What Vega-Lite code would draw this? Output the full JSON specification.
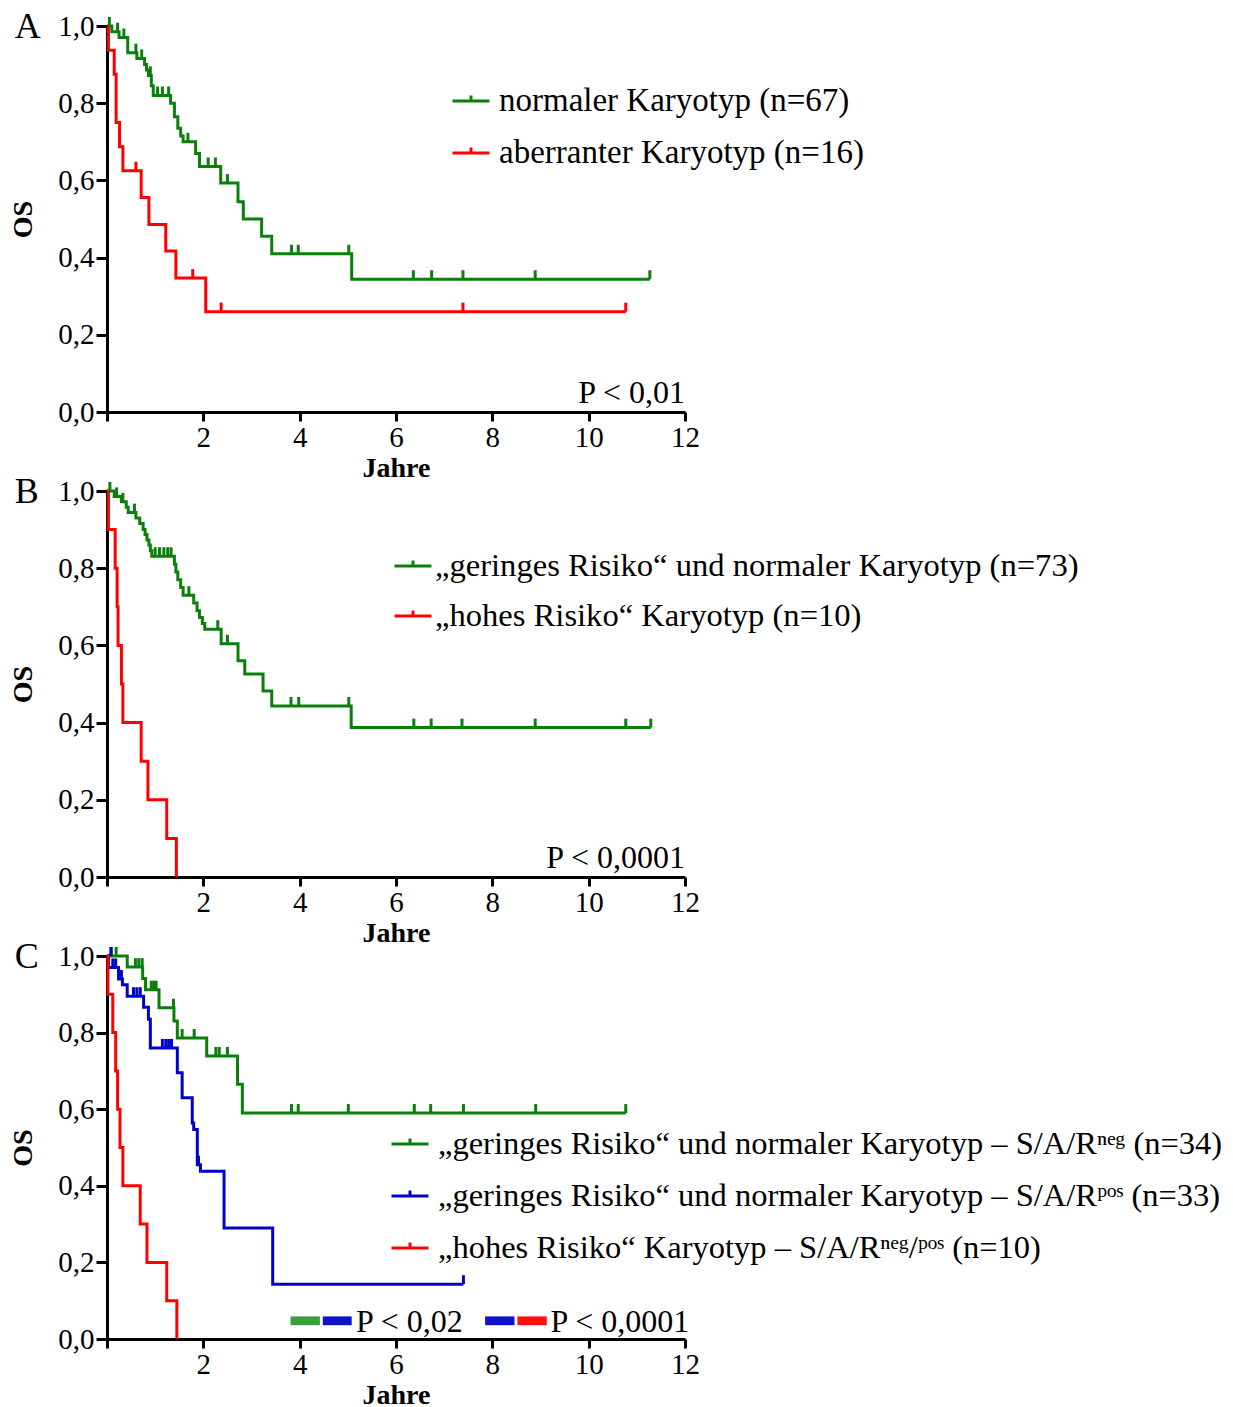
{
  "$schema": "https://vega.github.io/schema/vega-lite/v6.json",
  "background": "white",
  "padding": {"left": 9, "top": 9, "right": 5, "bottom": 5},
  "config": {
    "view": {"stroke": null},
    "font": "Liberation Serif",
    "concat": {"spacing": -8},
    "axis": {
      "domainColor": "black", "domainWidth": 3, "tickColor": "black", "tickWidth": 3,
      "labelFont": "Liberation Serif", "labelFontSize": 29, "labelColor": "black",
      "titleFont": "Liberation Serif", "titleFontWeight": "bold", "titleFontSize": 28, "titleColor": "black",
      "grid": false, "labelFlush": false
    },
    "axisX": {"tickSize": 9, "labelPadding": 2, "titlePadding": 2},
    "axisY": {"tickSize": 11, "labelPadding": 2, "titlePadding": 20},
    "legend": {
      "title": null, "orient": "none", "symbolType": "M-1,0H1M0,0V-0.3", "symbolSize": 1369,
      "symbolStrokeWidth": 3, "labelFontSize": 33, "labelFont": "Liberation Serif", "labelColor": "black",
      "labelLimit": 2000, "padding": 0, "rowPadding": 15
    },
    "title": {"font": "Liberation Serif", "fontSize": 36, "fontWeight": "normal", "color": "black", "anchor": "start", "frame": "bounds", "offset": 0, "dx": 5}
  },
  "datasets": {
    "A_line": [
      {"g": "normaler Karyotyp (n=67)", "t": 0, "s": 1.0},
      {"g": "normaler Karyotyp (n=67)", "t": 0.10, "s": 0.985},
      {"g": "normaler Karyotyp (n=67)", "t": 0.25, "s": 0.970},
      {"g": "normaler Karyotyp (n=67)", "t": 0.43, "s": 0.931},
      {"g": "normaler Karyotyp (n=67)", "t": 0.62, "s": 0.916},
      {"g": "normaler Karyotyp (n=67)", "t": 0.78, "s": 0.900},
      {"g": "normaler Karyotyp (n=67)", "t": 0.82, "s": 0.886},
      {"g": "normaler Karyotyp (n=67)", "t": 0.86, "s": 0.872},
      {"g": "normaler Karyotyp (n=67)", "t": 0.92, "s": 0.845},
      {"g": "normaler Karyotyp (n=67)", "t": 0.96, "s": 0.820},
      {"g": "normaler Karyotyp (n=67)", "t": 1.32, "s": 0.800},
      {"g": "normaler Karyotyp (n=67)", "t": 1.40, "s": 0.765},
      {"g": "normaler Karyotyp (n=67)", "t": 1.47, "s": 0.735},
      {"g": "normaler Karyotyp (n=67)", "t": 1.53, "s": 0.715},
      {"g": "normaler Karyotyp (n=67)", "t": 1.58, "s": 0.700},
      {"g": "normaler Karyotyp (n=67)", "t": 1.84, "s": 0.670},
      {"g": "normaler Karyotyp (n=67)", "t": 1.92, "s": 0.636},
      {"g": "normaler Karyotyp (n=67)", "t": 2.36, "s": 0.593},
      {"g": "normaler Karyotyp (n=67)", "t": 2.72, "s": 0.545},
      {"g": "normaler Karyotyp (n=67)", "t": 2.83, "s": 0.500},
      {"g": "normaler Karyotyp (n=67)", "t": 3.21, "s": 0.455},
      {"g": "normaler Karyotyp (n=67)", "t": 3.42, "s": 0.410},
      {"g": "normaler Karyotyp (n=67)", "t": 5.08, "s": 0.344},
      {"g": "normaler Karyotyp (n=67)", "t": 11.27, "s": 0.344},
      {"g": "aberranter Karyotyp (n=16)", "t": 0, "s": 1.0},
      {"g": "aberranter Karyotyp (n=16)", "t": 0.03, "s": 0.9375},
      {"g": "aberranter Karyotyp (n=16)", "t": 0.15, "s": 0.875},
      {"g": "aberranter Karyotyp (n=16)", "t": 0.19, "s": 0.75},
      {"g": "aberranter Karyotyp (n=16)", "t": 0.26, "s": 0.6875},
      {"g": "aberranter Karyotyp (n=16)", "t": 0.33, "s": 0.625},
      {"g": "aberranter Karyotyp (n=16)", "t": 0.71, "s": 0.556},
      {"g": "aberranter Karyotyp (n=16)", "t": 0.87, "s": 0.486},
      {"g": "aberranter Karyotyp (n=16)", "t": 1.22, "s": 0.417},
      {"g": "aberranter Karyotyp (n=16)", "t": 1.43, "s": 0.347},
      {"g": "aberranter Karyotyp (n=16)", "t": 2.05, "s": 0.26},
      {"g": "aberranter Karyotyp (n=16)", "t": 10.77, "s": 0.26}
    ],
    "A_cens": [
      {"g": "normaler Karyotyp (n=67)", "t": 0.05, "s": 1.0},
      {"g": "normaler Karyotyp (n=67)", "t": 0.22, "s": 0.985},
      {"g": "normaler Karyotyp (n=67)", "t": 0.35, "s": 0.970},
      {"g": "normaler Karyotyp (n=67)", "t": 0.60, "s": 0.931},
      {"g": "normaler Karyotyp (n=67)", "t": 0.72, "s": 0.916},
      {"g": "normaler Karyotyp (n=67)", "t": 0.90, "s": 0.872},
      {"g": "normaler Karyotyp (n=67)", "t": 1.05, "s": 0.820},
      {"g": "normaler Karyotyp (n=67)", "t": 1.15, "s": 0.820},
      {"g": "normaler Karyotyp (n=67)", "t": 1.28, "s": 0.820},
      {"g": "normaler Karyotyp (n=67)", "t": 1.68, "s": 0.700},
      {"g": "normaler Karyotyp (n=67)", "t": 2.10, "s": 0.636},
      {"g": "normaler Karyotyp (n=67)", "t": 2.25, "s": 0.636},
      {"g": "normaler Karyotyp (n=67)", "t": 2.50, "s": 0.593},
      {"g": "normaler Karyotyp (n=67)", "t": 3.83, "s": 0.410},
      {"g": "normaler Karyotyp (n=67)", "t": 3.97, "s": 0.410},
      {"g": "normaler Karyotyp (n=67)", "t": 5.02, "s": 0.410},
      {"g": "normaler Karyotyp (n=67)", "t": 6.36, "s": 0.344},
      {"g": "normaler Karyotyp (n=67)", "t": 6.74, "s": 0.344},
      {"g": "normaler Karyotyp (n=67)", "t": 7.39, "s": 0.344},
      {"g": "normaler Karyotyp (n=67)", "t": 8.89, "s": 0.344},
      {"g": "normaler Karyotyp (n=67)", "t": 11.27, "s": 0.344},
      {"g": "aberranter Karyotyp (n=16)", "t": 0.60, "s": 0.625},
      {"g": "aberranter Karyotyp (n=16)", "t": 1.78, "s": 0.347},
      {"g": "aberranter Karyotyp (n=16)", "t": 2.37, "s": 0.26},
      {"g": "aberranter Karyotyp (n=16)", "t": 7.39, "s": 0.26},
      {"g": "aberranter Karyotyp (n=16)", "t": 10.77, "s": 0.26}
    ],
    "B_line": [
      {"g": "„geringes Risiko“ und normaler Karyotyp (n=73)", "t": 0, "s": 1.0},
      {"g": "„geringes Risiko“ und normaler Karyotyp (n=73)", "t": 0.15, "s": 0.986},
      {"g": "„geringes Risiko“ und normaler Karyotyp (n=73)", "t": 0.30, "s": 0.972},
      {"g": "„geringes Risiko“ und normaler Karyotyp (n=73)", "t": 0.40, "s": 0.958},
      {"g": "„geringes Risiko“ und normaler Karyotyp (n=73)", "t": 0.44, "s": 0.944},
      {"g": "„geringes Risiko“ und normaler Karyotyp (n=73)", "t": 0.60, "s": 0.930},
      {"g": "„geringes Risiko“ und normaler Karyotyp (n=73)", "t": 0.68, "s": 0.916},
      {"g": "„geringes Risiko“ und normaler Karyotyp (n=73)", "t": 0.75, "s": 0.900},
      {"g": "„geringes Risiko“ und normaler Karyotyp (n=73)", "t": 0.79, "s": 0.887},
      {"g": "„geringes Risiko“ und normaler Karyotyp (n=73)", "t": 0.83, "s": 0.873},
      {"g": "„geringes Risiko“ und normaler Karyotyp (n=73)", "t": 0.87, "s": 0.860},
      {"g": "„geringes Risiko“ und normaler Karyotyp (n=73)", "t": 0.90, "s": 0.845},
      {"g": "„geringes Risiko“ und normaler Karyotyp (n=73)", "t": 0.93, "s": 0.831},
      {"g": "„geringes Risiko“ und normaler Karyotyp (n=73)", "t": 1.40, "s": 0.810},
      {"g": "„geringes Risiko“ und normaler Karyotyp (n=73)", "t": 1.43, "s": 0.790},
      {"g": "„geringes Risiko“ und normaler Karyotyp (n=73)", "t": 1.47, "s": 0.770},
      {"g": "„geringes Risiko“ und normaler Karyotyp (n=73)", "t": 1.53, "s": 0.750},
      {"g": "„geringes Risiko“ und normaler Karyotyp (n=73)", "t": 1.58, "s": 0.730},
      {"g": "„geringes Risiko“ und normaler Karyotyp (n=73)", "t": 1.80, "s": 0.710},
      {"g": "„geringes Risiko“ und normaler Karyotyp (n=73)", "t": 1.87, "s": 0.690},
      {"g": "„geringes Risiko“ und normaler Karyotyp (n=73)", "t": 1.92, "s": 0.672},
      {"g": "„geringes Risiko“ und normaler Karyotyp (n=73)", "t": 1.98, "s": 0.657},
      {"g": "„geringes Risiko“ und normaler Karyotyp (n=73)", "t": 2.03, "s": 0.642},
      {"g": "„geringes Risiko“ und normaler Karyotyp (n=73)", "t": 2.37, "s": 0.604},
      {"g": "„geringes Risiko“ und normaler Karyotyp (n=73)", "t": 2.72, "s": 0.560},
      {"g": "„geringes Risiko“ und normaler Karyotyp (n=73)", "t": 2.86, "s": 0.526},
      {"g": "„geringes Risiko“ und normaler Karyotyp (n=73)", "t": 3.24, "s": 0.482},
      {"g": "„geringes Risiko“ und normaler Karyotyp (n=73)", "t": 3.42, "s": 0.443},
      {"g": "„geringes Risiko“ und normaler Karyotyp (n=73)", "t": 5.07, "s": 0.387},
      {"g": "„geringes Risiko“ und normaler Karyotyp (n=73)", "t": 11.29, "s": 0.387},
      {"g": "„hohes Risiko“ Karyotyp (n=10)", "t": 0, "s": 1.0},
      {"g": "„hohes Risiko“ Karyotyp (n=10)", "t": 0.03, "s": 0.9},
      {"g": "„hohes Risiko“ Karyotyp (n=10)", "t": 0.17, "s": 0.8},
      {"g": "„hohes Risiko“ Karyotyp (n=10)", "t": 0.21, "s": 0.7},
      {"g": "„hohes Risiko“ Karyotyp (n=10)", "t": 0.23, "s": 0.6},
      {"g": "„hohes Risiko“ Karyotyp (n=10)", "t": 0.30, "s": 0.5},
      {"g": "„hohes Risiko“ Karyotyp (n=10)", "t": 0.33, "s": 0.4},
      {"g": "„hohes Risiko“ Karyotyp (n=10)", "t": 0.71, "s": 0.3},
      {"g": "„hohes Risiko“ Karyotyp (n=10)", "t": 0.85, "s": 0.2},
      {"g": "„hohes Risiko“ Karyotyp (n=10)", "t": 1.24, "s": 0.1},
      {"g": "„hohes Risiko“ Karyotyp (n=10)", "t": 1.44, "s": 0.0}
    ],
    "B_cens": [
      {"g": "„geringes Risiko“ und normaler Karyotyp (n=73)", "t": 0.06, "s": 1.0},
      {"g": "„geringes Risiko“ und normaler Karyotyp (n=73)", "t": 0.20, "s": 0.986},
      {"g": "„geringes Risiko“ und normaler Karyotyp (n=73)", "t": 0.33, "s": 0.972},
      {"g": "„geringes Risiko“ und normaler Karyotyp (n=73)", "t": 0.57, "s": 0.944},
      {"g": "„geringes Risiko“ und normaler Karyotyp (n=73)", "t": 1.00, "s": 0.831},
      {"g": "„geringes Risiko“ und normaler Karyotyp (n=73)", "t": 1.09, "s": 0.831},
      {"g": "„geringes Risiko“ und normaler Karyotyp (n=73)", "t": 1.18, "s": 0.831},
      {"g": "„geringes Risiko“ und normaler Karyotyp (n=73)", "t": 1.26, "s": 0.831},
      {"g": "„geringes Risiko“ und normaler Karyotyp (n=73)", "t": 1.33, "s": 0.831},
      {"g": "„geringes Risiko“ und normaler Karyotyp (n=73)", "t": 1.70, "s": 0.730},
      {"g": "„geringes Risiko“ und normaler Karyotyp (n=73)", "t": 2.30, "s": 0.642},
      {"g": "„geringes Risiko“ und normaler Karyotyp (n=73)", "t": 2.50, "s": 0.604},
      {"g": "„geringes Risiko“ und normaler Karyotyp (n=73)", "t": 3.82, "s": 0.443},
      {"g": "„geringes Risiko“ und normaler Karyotyp (n=73)", "t": 3.98, "s": 0.443},
      {"g": "„geringes Risiko“ und normaler Karyotyp (n=73)", "t": 5.02, "s": 0.443},
      {"g": "„geringes Risiko“ und normaler Karyotyp (n=73)", "t": 6.37, "s": 0.387},
      {"g": "„geringes Risiko“ und normaler Karyotyp (n=73)", "t": 6.73, "s": 0.387},
      {"g": "„geringes Risiko“ und normaler Karyotyp (n=73)", "t": 7.37, "s": 0.387},
      {"g": "„geringes Risiko“ und normaler Karyotyp (n=73)", "t": 8.89, "s": 0.387},
      {"g": "„geringes Risiko“ und normaler Karyotyp (n=73)", "t": 10.77, "s": 0.387},
      {"g": "„geringes Risiko“ und normaler Karyotyp (n=73)", "t": 11.29, "s": 0.387}
    ],
    "C_line": [
      {"g": "„geringes Risiko“ und normaler Karyotyp – S/A/Rⁿᵉᵍ (n=34)", "t": 0, "s": 1.0},
      {"g": "„geringes Risiko“ und normaler Karyotyp – S/A/Rⁿᵉᵍ (n=34)", "t": 0.42, "s": 0.971},
      {"g": "„geringes Risiko“ und normaler Karyotyp – S/A/Rⁿᵉᵍ (n=34)", "t": 0.74, "s": 0.941},
      {"g": "„geringes Risiko“ und normaler Karyotyp – S/A/Rⁿᵉᵍ (n=34)", "t": 0.80, "s": 0.912},
      {"g": "„geringes Risiko“ und normaler Karyotyp – S/A/Rⁿᵉᵍ (n=34)", "t": 1.08, "s": 0.865},
      {"g": "„geringes Risiko“ und normaler Karyotyp – S/A/Rⁿᵉᵍ (n=34)", "t": 1.39, "s": 0.830},
      {"g": "„geringes Risiko“ und normaler Karyotyp – S/A/Rⁿᵉᵍ (n=34)", "t": 1.46, "s": 0.786},
      {"g": "„geringes Risiko“ und normaler Karyotyp – S/A/Rⁿᵉᵍ (n=34)", "t": 2.07, "s": 0.739},
      {"g": "„geringes Risiko“ und normaler Karyotyp – S/A/Rⁿᵉᵍ (n=34)", "t": 2.71, "s": 0.665},
      {"g": "„geringes Risiko“ und normaler Karyotyp – S/A/Rⁿᵉᵍ (n=34)", "t": 2.81, "s": 0.590},
      {"g": "„geringes Risiko“ und normaler Karyotyp – S/A/Rⁿᵉᵍ (n=34)", "t": 10.77, "s": 0.590},
      {"g": "„geringes Risiko“ und normaler Karyotyp – S/A/Rᵖᵒˢ (n=33)", "t": 0, "s": 1.0},
      {"g": "„geringes Risiko“ und normaler Karyotyp – S/A/Rᵖᵒˢ (n=33)", "t": 0.03, "s": 0.970},
      {"g": "„geringes Risiko“ und normaler Karyotyp – S/A/Rᵖᵒˢ (n=33)", "t": 0.24, "s": 0.940},
      {"g": "„geringes Risiko“ und normaler Karyotyp – S/A/Rᵖᵒˢ (n=33)", "t": 0.32, "s": 0.925},
      {"g": "„geringes Risiko“ und normaler Karyotyp – S/A/Rᵖᵒˢ (n=33)", "t": 0.42, "s": 0.895},
      {"g": "„geringes Risiko“ und normaler Karyotyp – S/A/Rᵖᵒˢ (n=33)", "t": 0.76, "s": 0.866},
      {"g": "„geringes Risiko“ und normaler Karyotyp – S/A/Rᵖᵒˢ (n=33)", "t": 0.86, "s": 0.835},
      {"g": "„geringes Risiko“ und normaler Karyotyp – S/A/Rᵖᵒˢ (n=33)", "t": 0.90, "s": 0.760},
      {"g": "„geringes Risiko“ und normaler Karyotyp – S/A/Rᵖᵒˢ (n=33)", "t": 1.46, "s": 0.695},
      {"g": "„geringes Risiko“ und normaler Karyotyp – S/A/Rᵖᵒˢ (n=33)", "t": 1.56, "s": 0.630},
      {"g": "„geringes Risiko“ und normaler Karyotyp – S/A/Rᵖᵒˢ (n=33)", "t": 1.77, "s": 0.564},
      {"g": "„geringes Risiko“ und normaler Karyotyp – S/A/Rᵖᵒˢ (n=33)", "t": 1.80, "s": 0.547},
      {"g": "„geringes Risiko“ und normaler Karyotyp – S/A/Rᵖᵒˢ (n=33)", "t": 1.875, "s": 0.455},
      {"g": "„geringes Risiko“ und normaler Karyotyp – S/A/Rᵖᵒˢ (n=33)", "t": 1.94, "s": 0.438},
      {"g": "„geringes Risiko“ und normaler Karyotyp – S/A/Rᵖᵒˢ (n=33)", "t": 2.43, "s": 0.290},
      {"g": "„geringes Risiko“ und normaler Karyotyp – S/A/Rᵖᵒˢ (n=33)", "t": 3.44, "s": 0.143},
      {"g": "„geringes Risiko“ und normaler Karyotyp – S/A/Rᵖᵒˢ (n=33)", "t": 7.40, "s": 0.143},
      {"g": "„hohes Risiko“ Karyotyp – S/A/Rⁿᵉᵍ/ᵖᵒˢ (n=10)", "t": 0, "s": 1.0},
      {"g": "„hohes Risiko“ Karyotyp – S/A/Rⁿᵉᵍ/ᵖᵒˢ (n=10)", "t": 0.02, "s": 0.9},
      {"g": "„hohes Risiko“ Karyotyp – S/A/Rⁿᵉᵍ/ᵖᵒˢ (n=10)", "t": 0.12, "s": 0.8},
      {"g": "„hohes Risiko“ Karyotyp – S/A/Rⁿᵉᵍ/ᵖᵒˢ (n=10)", "t": 0.18, "s": 0.7},
      {"g": "„hohes Risiko“ Karyotyp – S/A/Rⁿᵉᵍ/ᵖᵒˢ (n=10)", "t": 0.22, "s": 0.6},
      {"g": "„hohes Risiko“ Karyotyp – S/A/Rⁿᵉᵍ/ᵖᵒˢ (n=10)", "t": 0.27, "s": 0.5},
      {"g": "„hohes Risiko“ Karyotyp – S/A/Rⁿᵉᵍ/ᵖᵒˢ (n=10)", "t": 0.33, "s": 0.4},
      {"g": "„hohes Risiko“ Karyotyp – S/A/Rⁿᵉᵍ/ᵖᵒˢ (n=10)", "t": 0.69, "s": 0.3},
      {"g": "„hohes Risiko“ Karyotyp – S/A/Rⁿᵉᵍ/ᵖᵒˢ (n=10)", "t": 0.83, "s": 0.2},
      {"g": "„hohes Risiko“ Karyotyp – S/A/Rⁿᵉᵍ/ᵖᵒˢ (n=10)", "t": 1.24, "s": 0.1},
      {"g": "„hohes Risiko“ Karyotyp – S/A/Rⁿᵉᵍ/ᵖᵒˢ (n=10)", "t": 1.45, "s": 0.0}
    ],
    "C_cens": [
      {"g": "„geringes Risiko“ und normaler Karyotyp – S/A/Rⁿᵉᵍ (n=34)", "t": 0.09, "s": 1.0},
      {"g": "„geringes Risiko“ und normaler Karyotyp – S/A/Rⁿᵉᵍ (n=34)", "t": 0.19, "s": 1.0},
      {"g": "„geringes Risiko“ und normaler Karyotyp – S/A/Rⁿᵉᵍ (n=34)", "t": 0.59, "s": 0.971},
      {"g": "„geringes Risiko“ und normaler Karyotyp – S/A/Rⁿᵉᵍ (n=34)", "t": 0.66, "s": 0.971},
      {"g": "„geringes Risiko“ und normaler Karyotyp – S/A/Rⁿᵉᵍ (n=34)", "t": 0.73, "s": 0.971},
      {"g": "„geringes Risiko“ und normaler Karyotyp – S/A/Rⁿᵉᵍ (n=34)", "t": 0.92, "s": 0.912},
      {"g": "„geringes Risiko“ und normaler Karyotyp – S/A/Rⁿᵉᵍ (n=34)", "t": 0.97, "s": 0.912},
      {"g": "„geringes Risiko“ und normaler Karyotyp – S/A/Rⁿᵉᵍ (n=34)", "t": 1.02, "s": 0.912},
      {"g": "„geringes Risiko“ und normaler Karyotyp – S/A/Rⁿᵉᵍ (n=34)", "t": 1.38, "s": 0.865},
      {"g": "„geringes Risiko“ und normaler Karyotyp – S/A/Rⁿᵉᵍ (n=34)", "t": 1.56, "s": 0.786},
      {"g": "„geringes Risiko“ und normaler Karyotyp – S/A/Rⁿᵉᵍ (n=34)", "t": 1.81, "s": 0.786},
      {"g": "„geringes Risiko“ und normaler Karyotyp – S/A/Rⁿᵉᵍ (n=34)", "t": 2.26, "s": 0.739},
      {"g": "„geringes Risiko“ und normaler Karyotyp – S/A/Rⁿᵉᵍ (n=34)", "t": 2.33, "s": 0.739},
      {"g": "„geringes Risiko“ und normaler Karyotyp – S/A/Rⁿᵉᵍ (n=34)", "t": 2.50, "s": 0.739},
      {"g": "„geringes Risiko“ und normaler Karyotyp – S/A/Rⁿᵉᵍ (n=34)", "t": 3.83, "s": 0.590},
      {"g": "„geringes Risiko“ und normaler Karyotyp – S/A/Rⁿᵉᵍ (n=34)", "t": 3.97, "s": 0.590},
      {"g": "„geringes Risiko“ und normaler Karyotyp – S/A/Rⁿᵉᵍ (n=34)", "t": 5.01, "s": 0.590},
      {"g": "„geringes Risiko“ und normaler Karyotyp – S/A/Rⁿᵉᵍ (n=34)", "t": 6.38, "s": 0.590},
      {"g": "„geringes Risiko“ und normaler Karyotyp – S/A/Rⁿᵉᵍ (n=34)", "t": 6.72, "s": 0.590},
      {"g": "„geringes Risiko“ und normaler Karyotyp – S/A/Rⁿᵉᵍ (n=34)", "t": 7.40, "s": 0.590},
      {"g": "„geringes Risiko“ und normaler Karyotyp – S/A/Rⁿᵉᵍ (n=34)", "t": 8.90, "s": 0.590},
      {"g": "„geringes Risiko“ und normaler Karyotyp – S/A/Rⁿᵉᵍ (n=34)", "t": 10.77, "s": 0.590},
      {"g": "„geringes Risiko“ und normaler Karyotyp – S/A/Rᵖᵒˢ (n=33)", "t": 0.08, "s": 1.0},
      {"g": "„geringes Risiko“ und normaler Karyotyp – S/A/Rᵖᵒˢ (n=33)", "t": 0.12, "s": 0.970},
      {"g": "„geringes Risiko“ und normaler Karyotyp – S/A/Rᵖᵒˢ (n=33)", "t": 0.18, "s": 0.970},
      {"g": "„geringes Risiko“ und normaler Karyotyp – S/A/Rᵖᵒˢ (n=33)", "t": 0.30, "s": 0.940},
      {"g": "„geringes Risiko“ und normaler Karyotyp – S/A/Rᵖᵒˢ (n=33)", "t": 0.55, "s": 0.895},
      {"g": "„geringes Risiko“ und normaler Karyotyp – S/A/Rᵖᵒˢ (n=33)", "t": 0.62, "s": 0.895},
      {"g": "„geringes Risiko“ und normaler Karyotyp – S/A/Rᵖᵒˢ (n=33)", "t": 0.69, "s": 0.895},
      {"g": "„geringes Risiko“ und normaler Karyotyp – S/A/Rᵖᵒˢ (n=33)", "t": 1.15, "s": 0.760},
      {"g": "„geringes Risiko“ und normaler Karyotyp – S/A/Rᵖᵒˢ (n=33)", "t": 1.22, "s": 0.760},
      {"g": "„geringes Risiko“ und normaler Karyotyp – S/A/Rᵖᵒˢ (n=33)", "t": 1.28, "s": 0.760},
      {"g": "„geringes Risiko“ und normaler Karyotyp – S/A/Rᵖᵒˢ (n=33)", "t": 1.34, "s": 0.760},
      {"g": "„geringes Risiko“ und normaler Karyotyp – S/A/Rᵖᵒˢ (n=33)", "t": 1.90, "s": 0.455},
      {"g": "„geringes Risiko“ und normaler Karyotyp – S/A/Rᵖᵒˢ (n=33)", "t": 7.40, "s": 0.143}
    ]
  },
  "resolve": {"scale": {"color": "independent"}, "legend": {"color": "independent"}},
  "vconcat": [
    {
      "width": 578, "height": 386,
      "title": {"text": "A", "dy": 38},
      "layer": [
        {
          "data": {"name": "A_line"},
          "mark": {"type": "line", "interpolate": "step-after", "strokeWidth": 3},
          "encoding": {
            "x": {"field": "t", "type": "quantitative", "scale": {"domain": [0, 12], "nice": false},
                  "axis": {"values": [0, 2, 4, 6, 8, 10, 12], "labelExpr": "datum.value == 0 ? '' : datum.label", "title": "Jahre"}},
            "y": {"field": "s", "type": "quantitative", "scale": {"domain": [0, 1], "nice": false},
                  "axis": {"values": [0, 0.2, 0.4, 0.6, 0.8, 1], "labelExpr": "replace(format(datum.value, '.1f'), '.', ',')", "title": "OS"}},
            "color": {"field": "g", "type": "nominal",
                      "scale": {"domain": ["normaler Karyotyp (n=67)", "aberranter Karyotyp (n=16)"], "range": ["#0a800a", "#ff0000"]},
                      "legend": {"legendX": 344, "legendY": 55, "labelOffset": 8, "rowPadding": 15}}
          }
        },
        {
          "data": {"name": "A_cens"},
          "mark": {"type": "tick", "orient": "vertical", "size": 9, "thickness": 3, "yOffset": -4.5, "opacity": 1},
          "encoding": {
            "x": {"field": "t", "type": "quantitative"},
            "y": {"field": "s", "type": "quantitative"},
            "color": {"field": "g", "type": "nominal", "legend": null}
          }
        },
        {
          "data": {"values": [{}]},
          "mark": {"type": "text", "align": "right", "baseline": "alphabetic", "fontSize": 32, "dy": -9, "color": "black"},
          "encoding": {"x": {"datum": 12}, "y": {"datum": 0}, "text": {"value": "P < 0,01"}}
        }
      ]
    },
    {
      "width": 578, "height": 386,
      "title": {"text": "B", "dy": 38},
      "layer": [
        {
          "data": {"name": "B_line"},
          "mark": {"type": "line", "interpolate": "step-after", "strokeWidth": 3},
          "encoding": {
            "x": {"field": "t", "type": "quantitative", "scale": {"domain": [0, 12], "nice": false},
                  "axis": {"values": [0, 2, 4, 6, 8, 10, 12], "labelExpr": "datum.value == 0 ? '' : datum.label", "title": "Jahre"}},
            "y": {"field": "s", "type": "quantitative", "scale": {"domain": [0, 1], "nice": false},
                  "axis": {"values": [0, 0.2, 0.4, 0.6, 0.8, 1], "labelExpr": "replace(format(datum.value, '.1f'), '.', ',')", "title": "OS"}},
            "color": {"field": "g", "type": "nominal",
                      "scale": {"domain": ["„geringes Risiko“ und normaler Karyotyp (n=73)", "„hohes Risiko“ Karyotyp (n=10)"], "range": ["#0a800a", "#ff0000"]},
                      "legend": {"legendX": 286, "legendY": 55, "labelOffset": 2, "labelFontSize": 32.6, "rowPadding": 13}}
          }
        },
        {
          "data": {"name": "B_cens"},
          "mark": {"type": "tick", "orient": "vertical", "size": 9, "thickness": 3, "yOffset": -4.5, "opacity": 1},
          "encoding": {
            "x": {"field": "t", "type": "quantitative"},
            "y": {"field": "s", "type": "quantitative"},
            "color": {"field": "g", "type": "nominal", "legend": null}
          }
        },
        {
          "data": {"values": [{}]},
          "mark": {"type": "text", "align": "right", "baseline": "alphabetic", "fontSize": 32, "dy": -9, "color": "black"},
          "encoding": {"x": {"datum": 12}, "y": {"datum": 0}, "text": {"value": "P < 0,0001"}}
        }
      ]
    },
    {
      "width": 578, "height": 383,
      "title": {"text": "C", "dy": 38},
      "layer": [
        {
          "data": {"name": "C_line"},
          "mark": {"type": "line", "interpolate": "step-after", "strokeWidth": 3},
          "encoding": {
            "x": {"field": "t", "type": "quantitative", "scale": {"domain": [0, 12], "nice": false},
                  "axis": {"values": [0, 2, 4, 6, 8, 10, 12], "labelExpr": "datum.value == 0 ? '' : datum.label", "title": "Jahre"}},
            "y": {"field": "s", "type": "quantitative", "scale": {"domain": [0, 1], "nice": false},
                  "axis": {"values": [0, 0.2, 0.4, 0.6, 0.8, 1], "labelExpr": "replace(format(datum.value, '.1f'), '.', ',')", "title": "OS"}},
            "color": {"field": "g", "type": "nominal",
                      "scale": {"domain": ["„geringes Risiko“ und normaler Karyotyp – S/A/Rⁿᵉᵍ (n=34)", "„geringes Risiko“ und normaler Karyotyp – S/A/Rᵖᵒˢ (n=33)", "„hohes Risiko“ Karyotyp – S/A/Rⁿᵉᵍ/ᵖᵒˢ (n=10)"], "range": ["#0a800a", "#0000cc", "#ff0000"]},
                      "legend": {"legendX": 283, "legendY": 168, "labelOffset": 8, "labelFontSize": 32.5, "rowPadding": 15}}
          }
        },
        {
          "data": {"name": "C_cens"},
          "mark": {"type": "tick", "orient": "vertical", "size": 9, "thickness": 3, "yOffset": -4.5, "opacity": 1},
          "encoding": {
            "x": {"field": "t", "type": "quantitative"},
            "y": {"field": "s", "type": "quantitative"},
            "color": {"field": "g", "type": "nominal", "legend": null}
          }
        },
        {
          "data": {"values": [{}]},
          "mark": {"type": "rect", "color": "#3a9e3a"},
          "encoding": {"x": {"datum": 3.81}, "x2": {"datum": 4.42}, "y": {"datum": 0.036}, "y2": {"datum": 0.059}}
        },
        {
          "data": {"values": [{}]},
          "mark": {"type": "rect", "color": "#1010c8"},
          "encoding": {"x": {"datum": 4.48}, "x2": {"datum": 5.08}, "y": {"datum": 0.036}, "y2": {"datum": 0.059}}
        },
        {
          "data": {"values": [{}]},
          "mark": {"type": "rect", "color": "#1010c8"},
          "encoding": {"x": {"datum": 7.85}, "x2": {"datum": 8.46}, "y": {"datum": 0.036}, "y2": {"datum": 0.059}}
        },
        {
          "data": {"values": [{}]},
          "mark": {"type": "rect", "color": "#ff1010"},
          "encoding": {"x": {"datum": 8.52}, "x2": {"datum": 9.13}, "y": {"datum": 0.036}, "y2": {"datum": 0.059}}
        },
        {
          "data": {"values": [{}]},
          "mark": {"type": "text", "align": "left", "baseline": "alphabetic", "fontSize": 32, "dy": -7, "color": "black"},
          "encoding": {"x": {"datum": 5.17}, "y": {"datum": 0}, "text": {"value": "P < 0,02"}}
        },
        {
          "data": {"values": [{}]},
          "mark": {"type": "text", "align": "left", "baseline": "alphabetic", "fontSize": 32, "dy": -7, "color": "black"},
          "encoding": {"x": {"datum": 9.21}, "y": {"datum": 0}, "text": {"value": "P < 0,0001"}}
        }
      ]
    }
  ]
}
